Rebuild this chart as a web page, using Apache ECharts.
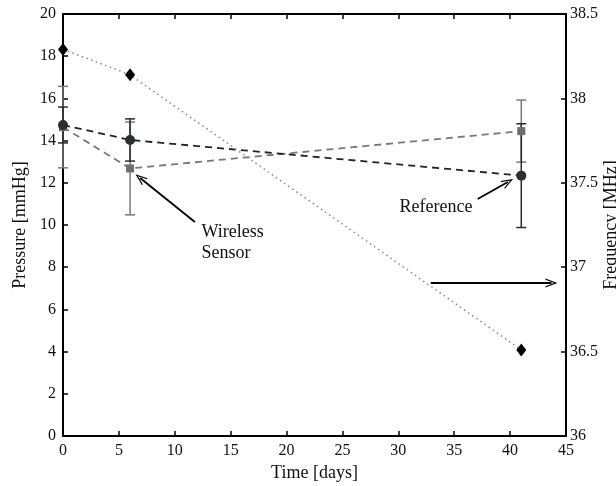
<!DOCTYPE html>
<html>
<head>
    <meta charset="utf-8">
    <title></title>
    <script src="https://cdn.jsdelivr.net/npm/echarts@6/dist/echarts.min.js"></script>
    <style>
        body { margin: 0; background: #fff; }
        #main { width: 616px; height: 486px; }
    </style>
</head>
<body>
    <div id="main"></div>
    <script type="text/javascript">
        // data
        var days = [0, 6, 41];
        var refPressure = [14.74, 14.03, 12.34];
        var refErr = [0.85, 1.0, 2.46];
        var sensorPressure = [14.64, 12.68, 14.45];
        var sensorErr = [1.93, 2.2, 1.47];
        var frequency = [38.29, 38.14, 36.51];
        var xTicks = [0, 5, 10, 15, 20, 25, 30, 35, 40, 45];

        var font = 'Liberation Serif';

        function pairs(xs, ys) {
            return xs.map(function (x, i) { return [x, ys[i]]; });
        }
        function errRows(xs, ys, es) {
            return xs.map(function (x, i) { return [x, ys[i] - es[i], ys[i] + es[i]]; });
        }
        function errorBar(color) {
            return function (params, api) {
                var x = api.value(0);
                var lo = api.coord([x, api.value(1)]);
                var hi = api.coord([x, api.value(2)]);
                var w = 5;
                var st = { stroke: color, lineWidth: 1.5 };
                return {
                    type: 'group',
                    children: [
                        { type: 'line', shape: { x1: lo[0], y1: lo[1], x2: hi[0], y2: hi[1] }, style: st },
                        { type: 'line', shape: { x1: lo[0] - w, y1: lo[1], x2: lo[0] + w, y2: lo[1] }, style: st },
                        { type: 'line', shape: { x1: hi[0] - w, y1: hi[1], x2: hi[0] + w, y2: hi[1] }, style: st }
                    ]
                };
            };
        }

        var arrowHead = 'path://M0,10L5,0L10,10L8.6,10L5,2.8L1.4,10Z';
        var axisLine = { show: true, onZero: false, lineStyle: { color: '#000', width: 2 } };
        var tick = { show: true, inside: true, length: 5, lineStyle: { color: '#000', width: 1.5 } };
        var labelStyle = { color: '#111', fontFamily: font, fontSize: 16 };
        var nameStyle = { color: '#111', fontFamily: font, fontSize: 18 };

        var myChart = echarts.init(document.getElementById('main'));
        var option = {
            animation: false,
            backgroundColor: '#fff',
            grid: { left: 63, right: 50, top: 14, bottom: 50, containLabel: false, outerBoundsMode: 'none' },
            xAxis: [{
                type: 'value', min: 0, max: 45, interval: 5,
                name: 'Time [days]', nameLocation: 'middle', nameGap: 28, nameTextStyle: nameStyle,
                axisLine: axisLine,
                axisTick: tick,
                axisLabel: Object.assign({ margin: 7, formatter: function (v) { return xTicks.indexOf(v) >= 0 ? v : ''; } }, labelStyle),
                splitLine: { show: false }
            }, {
                type: 'value', min: 0, max: 45, interval: 5, position: 'top',
                axisLine: axisLine,
                axisTick: tick,
                axisLabel: { show: false },
                splitLine: { show: false }
            }],
            yAxis: [{
                type: 'value', min: 0, max: 20, interval: 2, position: 'left',
                name: 'Pressure [mmHg]', nameLocation: 'middle', nameGap: 34, nameRotate: 90, nameTextStyle: nameStyle,
                nameMoveOverlap: false,
                axisLine: axisLine,
                axisTick: tick,
                axisLabel: Object.assign({ margin: 7 }, labelStyle),
                splitLine: { show: false }
            }, {
                type: 'value', min: 36, max: 38.5, interval: 0.5, position: 'right',
                name: 'Frequency [MHz]', nameLocation: 'middle', nameGap: 36, nameRotate: 90, nameTextStyle: nameStyle,
                nameMoveOverlap: false,
                axisLine: axisLine,
                axisTick: tick,
                axisLabel: Object.assign({ margin: 4 }, labelStyle),
                splitLine: { show: false }
            }],
            series: [{
                name: 'sensor error',
                type: 'custom',
                yAxisIndex: 0,
                renderItem: errorBar('#7a7a7a'),
                encode: { x: 0, y: [1, 2] },
                data: errRows(days, sensorPressure, sensorErr),
                clip: false,
                z: 1
            }, {
                name: 'reference error',
                type: 'custom',
                yAxisIndex: 0,
                renderItem: errorBar('#2a2a2a'),
                encode: { x: 0, y: [1, 2] },
                data: errRows(days, refPressure, refErr),
                clip: false,
                z: 2
            }, {
                name: 'Wireless Sensor',
                type: 'line',
                yAxisIndex: 0,
                data: pairs(days, sensorPressure),
                symbol: 'rect', symbolSize: 8,
                itemStyle: { color: '#6e6e6e' },
                lineStyle: { color: '#777', width: 1.8, type: [7, 5] },
                z: 3
            }, {
                name: 'Reference',
                type: 'line',
                yAxisIndex: 0,
                data: pairs(days, refPressure),
                symbol: 'circle', symbolSize: 10,
                itemStyle: { color: '#2b2f2f' },
                lineStyle: { color: '#222', width: 1.8, type: [7, 5] },
                z: 4,
                markLine: {
                    silent: true,
                    symbol: ['none', arrowHead],
                    symbolSize: [9, 12],
                    label: { show: false },
                    lineStyle: { color: '#000', width: 1.8, type: 'solid' },
                    data: [
                        [{ coord: [11.8, 10.14] }, { coord: [6.9, 12.23] }],
                        [{ coord: [37.1, 11.23] }, { coord: [39.8, 12.04] }],
                        [{ coord: [32.9, 7.25] }, { coord: [43.7, 7.25] }]
                    ]
                },
                markPoint: {
                    silent: true,
                    symbol: 'circle', symbolSize: 0,
                    label: {
                        show: true, position: [0, 0], align: 'left', verticalAlign: 'middle',
                        color: '#111', fontFamily: font, fontSize: 18, lineHeight: 21,
                        formatter: function (p) { return p.name; }
                    },
                    data: [
                        { name: 'Wireless\nSensor', coord: [12.4, 9.15] },
                        { name: 'Reference', coord: [30.1, 10.85] }
                    ]
                }
            }, {
                name: 'Frequency',
                type: 'line',
                yAxisIndex: 1,
                data: pairs(days, frequency),
                symbol: 'diamond', symbolSize: [10, 13],
                itemStyle: { color: '#000' },
                lineStyle: { color: '#888', width: 1.5, type: [1.5, 3.5] },
                z: 5
            }]
        };
        myChart.setOption(option);
    </script>
</body>
</html>
